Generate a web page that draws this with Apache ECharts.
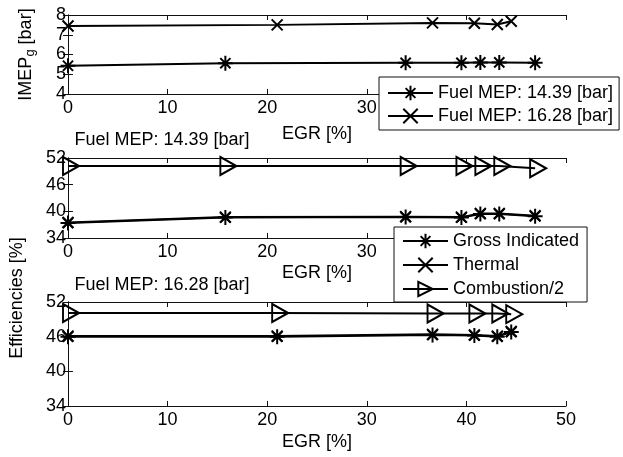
<!DOCTYPE html>
<html><head><meta charset="utf-8">
<script src="https://cdn.jsdelivr.net/npm/echarts@6/dist/echarts.min.js"></script>
<style>html,body{margin:0;padding:0;background:#fff}#c{width:623px;height:457px}</style>
</head><body><div id="c"></div><script>
// ---- data ----
const egr14 = [0, 15.8, 33.9, 39.5, 41.4, 43.3, 46.9];
const egr16 = [0, 21.0, 36.6, 40.8, 43.1, 44.5];
const imep14 = [5.43, 5.56, 5.58, 5.58, 5.60, 5.60, 5.58];
const imep16 = [7.44, 7.50, 7.60, 7.58, 7.52, 7.68];
const gross14 = [37.4, 38.6, 38.7, 38.6, 39.4, 39.4, 38.9];
const thermal14 = [37.5, 38.7, 38.8, 38.7, 39.5, 39.5, 39.0];
const comb14 = [50.2, 50.2, 50.2, 50.2, 50.2, 50.2, 49.7];
const gross16 = [46.0, 46.0, 46.3, 46.2, 46.0, 46.8];
const thermal16 = [46.1, 46.1, 46.4, 46.3, 46.1, 46.9];
const comb16 = [50.1, 50.1, 50.0, 50.0, 50.0, 49.9];
const xTickVals = [0, 10, 20, 30, 40, 50];
const imepTicks = [4, 5, 6, 7, 8];
const effTicks = [34, 40, 46, 52];
const topNames = ['Fuel MEP: 14.39 [bar]', 'Fuel MEP: 16.28 [bar]'];
const effNames = ['Gross Indicated', 'Thermal', 'Combustion/2'];
const titles = ['Fuel MEP: 14.39 [bar]', 'Fuel MEP: 16.28 [bar]'];

const FONT = 'Liberation Sans, Arial, sans-serif';
const FS = 18;
const STAR = 'path://M5 0 L5 10 M0 5 L10 5 M1.6 1.6 L8.4 8.4 M8.4 1.6 L1.6 8.4';
const XMARK = 'path://M0 0 L10 10 M10 0 L0 10';
const TRI = 'path://M0 0 L10 5 L0 10 Z';

const zip = (xs, ys) => xs.map((x, i) => [x, ys[i]]);

const grids = [
  {left: 68, top: 15, width: 498, height: 79},
  {left: 68, top: 158, width: 498, height: 80},
  {left: 68, top: 302, width: 498, height: 104}
];

const axLine = {show: true, lineStyle: {color: '#111', width: 1}};
const tick = {show: true, inside: true, length: 5, lineStyle: {color: '#111'}};

const xAxes = [], yAxes = [];
const nameGaps = [31, 26, 27];
grids.forEach((g, i) => {
  xAxes.push({type: 'value', gridIndex: i, min: 0, max: 50, interval: 10, position: 'bottom',
    axisLine: axLine, axisTick: tick, splitLine: {show: false},
    axisLabel: {color: '#000', fontSize: FS, fontFamily: FONT, margin: 5},
    name: 'EGR [%]', nameLocation: 'middle', nameGap: nameGaps[i],
    nameTextStyle: {color: '#000', fontSize: FS, fontFamily: FONT}});
  xAxes.push({type: 'value', gridIndex: i, min: 0, max: 50, interval: 10, position: 'top',
    axisLine: axLine, axisTick: tick, splitLine: {show: false}, axisLabel: {show: false}});
  const mn = i === 0 ? 4 : 34, mx = i === 0 ? 8 : 52;
  const yl = {type: 'value', gridIndex: i, min: mn, max: mx, position: 'left',
    axisLine: axLine, splitLine: {show: false},
    axisTick: Object.assign({}, tick),
    axisLabel: {color: '#000', fontSize: FS, fontFamily: FONT, margin: 2}};
  const yr = {type: 'value', gridIndex: i, min: mn, max: mx, position: 'right',
    axisLine: axLine, splitLine: {show: false}, axisTick: Object.assign({}, tick), axisLabel: {show: false}};
  if (i === 0) {
    yl.interval = 1; yr.interval = 1;
    yl.name = '{a|IMEP}{b|g}{a| [bar]}';
    yl.nameLocation = 'middle'; yl.nameGap = 31;
    yl.nameTextStyle = {color: '#000', fontFamily: FONT,
      rich: {a: {fontSize: FS, fontFamily: FONT, color: '#000', lineHeight: 20, verticalAlign: 'top'},
             b: {fontSize: 13, fontFamily: FONT, color: '#000', lineHeight: 14, padding: [11, 0, 0, 0], verticalAlign: 'bottom'}}};
  } else {
    yl.axisTick.customValues = effTicks; yl.axisLabel.customValues = effTicks;
    yr.axisTick.customValues = effTicks; yr.axisLabel.customValues = effTicks;
  }
  yAxes.push(yl, yr);
});

function mk(name, data, gi, symbol, size, offset) {
  return {type: 'line', name, data, xAxisIndex: gi * 2, yAxisIndex: gi * 2,
    symbol, symbolSize: size, symbolOffset: offset || [0, 0], showSymbol: true,
    lineStyle: {color: '#000', width: 2},
    itemStyle: {color: 'rgba(0,0,0,0)', borderColor: '#000', borderWidth: 2},
    emphasis: {disabled: true}, animation: false, z: 3};
}

const series = [
  mk(topNames[0], zip(egr14, imep14), 0, STAR, 15),
  mk(topNames[1], zip(egr16, imep16), 0, XMARK, 11),
  mk(effNames[0], zip(egr14, gross14), 1, STAR, 15),
  mk(effNames[1], zip(egr14, thermal14), 1, XMARK, 11),
  mk(effNames[2], zip(egr14, comb14), 1, TRI, [16, 18], [3, 0]),
  mk(effNames[0], zip(egr16, gross16), 2, STAR, 15),
  mk(effNames[1], zip(egr16, thermal16), 2, XMARK, 11),
  mk(effNames[2], zip(egr16, comb16), 2, TRI, [16, 18], [3, 0])
];

const legendBase = {orient: 'vertical', itemWidth: 45, itemHeight: 18,
  backgroundColor: '#fff', borderColor: '#111', borderWidth: 1, selectedMode: false,
  textStyle: {color: '#000', fontSize: FS, fontFamily: FONT}, z: 10};

const option = {
  animation: false,
  backgroundColor: '#fff',
  grid: grids,
  xAxis: xAxes,
  yAxis: yAxes,
  series,
  legend: [
    Object.assign({}, legendBase, {left: 379, top: 77, data: topNames, itemGap: 5, padding: [7, 6, 5, 8]}),
    Object.assign({}, legendBase, {left: 394, top: 227, data: effNames, itemGap: 6, padding: [5, 8, 4, 8]})
  ],
  graphic: [
    {type: 'text', x: 162, y: 140, style: {text: titles[0], fill: '#000', font: FS + 'px ' + FONT, align: 'center', verticalAlign: 'middle'}, z: 5},
    {type: 'text', x: 162, y: 285, style: {text: titles[1], fill: '#000', font: FS + 'px ' + FONT, align: 'center', verticalAlign: 'middle'}, z: 5},
    {type: 'text', x: 17, y: 298, rotation: Math.PI / 2, style: {text: 'Efficiencies [%]', fill: '#000', font: FS + 'px ' + FONT, align: 'center', verticalAlign: 'middle'}, z: 5}
  ]
};
const chart = echarts.init(document.getElementById('c'), null, {renderer: 'canvas'});
chart.setOption(option);
</script></body></html>
